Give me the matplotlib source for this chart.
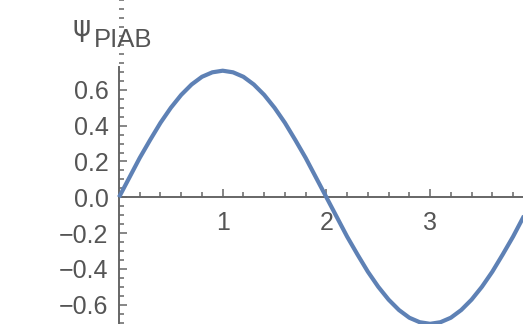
import matplotlib
matplotlib.use("Agg")
import matplotlib.pyplot as plt
import numpy as np
from matplotlib.ticker import MultipleLocator

# particle-in-a-box wavefunction, values
x_vals = [0.0, 0.1, 0.2, 0.3, 0.4, 0.5, 0.6, 0.7, 0.8, 0.9,
          1.0, 1.1, 1.2, 1.3, 1.4, 1.5, 1.6, 1.7, 1.8, 1.9,
          2.0, 2.1, 2.2, 2.3, 2.4, 2.5, 2.6, 2.7, 2.8, 2.9,
          3.0, 3.1, 3.2, 3.3, 3.4, 3.5, 3.6, 3.7, 3.8, 3.9, 4.0]
psi_vals = [0.0, 0.11, 0.22, 0.32, 0.416, 0.50, 0.572, 0.63, 0.673, 0.698,
            0.707, 0.698, 0.673, 0.63, 0.572, 0.50, 0.416, 0.32, 0.22, 0.11,
            0.0, -0.11, -0.22, -0.32, -0.416, -0.50, -0.572, -0.63, -0.673, -0.698,
            -0.707, -0.698, -0.673, -0.63, -0.572, -0.50, -0.416, -0.32, -0.22, -0.11, 0.0]

x_ticks = [1, 2, 3]
y_ticks = [-0.6, -0.4, -0.2, 0.0, 0.2, 0.4, 0.6]
y_labels = ["\u22120.6", "\u22120.4", "\u22120.2", "0.0", "0.2", "0.4", "0.6"]

W, H = 523, 324
axis_col = "#666666"
text_col = "#555555"

fig = plt.figure(figsize=(W / 100, H / 100), dpi=100)
ax = fig.add_axes([0, 0, 1, 1])
ax.plot(x_vals, psi_vals, color="#5E81B5", lw=3, zorder=3, solid_capstyle="butt")

ax.set_xlim(-1.1475, 3.896)
ax.set_ylim(-0.708, 1.102)

for s in ["top", "right"]:
    ax.spines[s].set_visible(False)
ax.spines["left"].set_position(("data", 0))
ax.spines["bottom"].set_position(("data", 0))
ax.spines["left"].set_bounds(-0.8, 0.73)
ax.spines["bottom"].set_bounds(0, 4)
for s in ["left", "bottom"]:
    ax.spines[s].set_color(axis_col)
    ax.spines[s].set_linewidth(1.4)

ax.set_xticks(x_ticks)
ax.set_xticks([t for t in np.arange(0.2, 4.0, 0.2) if abs(t - round(t)) > 0.01], minor=True)
ax.set_yticks(y_ticks)
ax.set_yticklabels(y_labels)
ax.yaxis.set_minor_locator(MultipleLocator(0.05))

ax.tick_params(which="both", direction="in", color=axis_col, width=1.1,
               labelcolor=text_col, labelsize=18)
ax.tick_params(which="major", length=6)
ax.tick_params(which="minor", length=3.5)
ax.tick_params(axis="x", pad=10)
ax.tick_params(axis="y", pad=7.5)
for lab in ax.get_xticklabels() + ax.get_yticklabels():
    lab.set_family("Liberation Sans")

fig.text(72 / W, 1 - 36 / H, "\u03c8", fontsize=20, color=text_col,
         family="DejaVu Sans", va="baseline", ha="left")
fig.text(94 / W, 1 - 47 / H, "PIAB", fontsize=18.5, color=text_col,
         family="Liberation Sans", va="baseline", ha="left")

fig.savefig("out.png", dpi=100)
